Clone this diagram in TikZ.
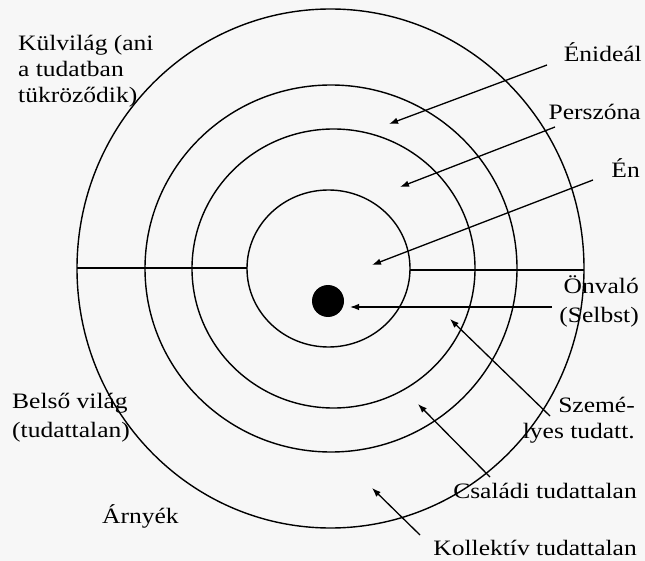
\documentclass[tikz,border=0pt]{standalone}
\usepackage{fontspec}
\setmainfont[FakeStretch=1.16]{Liberation Serif}
\usetikzlibrary{arrows.meta}
\tikzset{
  ring/.style={line width=1.4pt},
  lab/.style={font=\fontsize{22}{26}\selectfont,inner sep=0pt},
  ptr/.style={line width=1.3pt,-{Latex[length=9pt,width=6.5pt]}}
}

\begin{document}
\begin{tikzpicture}[x=1pt,y=-1pt]
  \useasboundingbox[fill=black!3] (0,0) rectangle (645,561);
  % rings, inner to outer
  \foreach \cx/\rx/\ry in {328.5/81.5/78.5,333.5/141.5/139.5,331/186/183.5,330.5/253.5/259.5}{
    \draw[ring] (\cx,268.5) ellipse ({\rx} and {\ry});
  }
  \draw[ring] (77,268)--(247,268);
  \draw[ring] (410,270)--(584,270);
  \fill (328,301) circle (16pt);

  % labels (base = last line)
  \node[lab,anchor=base west,align=left] (kulvilag) at (18,103)
    {Külvilág (ani\\a tudatban\\tükröződik)};
  \node[lab,anchor=base east] (enideal) at (642,62) {Énideál};
  \node[lab,anchor=base east] (perszona) at (641,120) {Perszóna};
  \node[lab,anchor=base east] (en) at (640,178) {Én};
  \node[lab,anchor=base east,align=right] (onvalo) at (639,323) {Önvaló\\[3pt](Selbst)};
  \node[lab,anchor=base east,align=right] (szemelyes) at (635,438) {Szemé-\\lyes tudatt.};
  \node[lab,anchor=base east] (csaladi) at (637,498) {Családi tudattalan};
  \node[lab,anchor=base east] (kollektiv) at (637,555) {Kollektív tudattalan};
  \node[lab,anchor=base west,align=left] (belso) at (12,437) {Belső világ\\[3pt](tudattalan)};
  \node[lab,anchor=base west] (arnyek) at (102,523) {Árnyék};

  % arrow ends
  \coordinate (enideal-t) at (547,65);   \coordinate (enideal-h) at (389,124);
  \coordinate (perszona-t) at (555,127); \coordinate (perszona-h) at (400,187);
  \coordinate (en-t) at (593,180);       \coordinate (en-h) at (372,265);
  \coordinate (onvalo-t) at (552,307);   \coordinate (onvalo-h) at (350,307);
  \coordinate (szemelyes-t) at (550,416);\coordinate (szemelyes-h) at (450,319);
  \coordinate (csaladi-t) at (490,477);  \coordinate (csaladi-h) at (418,404);
  \coordinate (kollektiv-t) at (420,535);\coordinate (kollektiv-h) at (372,488);
  \foreach \n in {enideal,perszona,en,onvalo,szemelyes,csaladi,kollektiv}{
    \draw[ptr] (\n-t)--(\n-h);
  }
\end{tikzpicture}
\end{document}
